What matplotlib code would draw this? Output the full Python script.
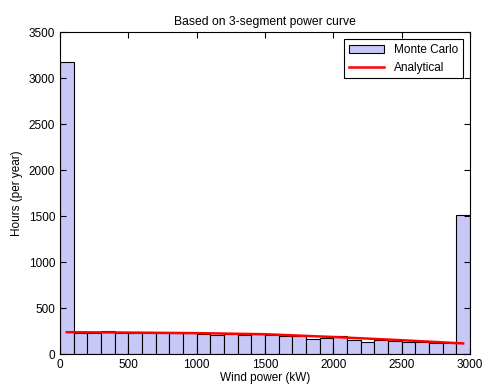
import matplotlib
matplotlib.use("Agg")
import matplotlib.pyplot as plt
import numpy as np

plt.rcParams['font.family'] = ['Liberation Sans', 'DejaVu Sans']

bin_edges = list(range(0, 3001, 100))
mc_hours = [3170, 226, 233, 255, 233, 226, 233, 229, 229, 229,
            222, 211, 215, 211, 222, 204, 193, 193, 164, 178,
            193, 157, 127, 153, 146, 135, 127, 124, 120, 1510]
an_x = [50, 500, 1000, 1500, 2000, 2500, 2950]
an_y = [237, 233, 227, 215, 185, 150, 115]

fig = plt.figure(figsize=(4.82, 3.88), dpi=100)
ax = fig.add_axes([0.1245, 0.0876, 0.8505, 0.8299])
lefts = bin_edges[:-1]
widths = np.diff(bin_edges)
bars = ax.bar(lefts, mc_hours, width=widths, align='edge', color='#c8c8f8',
              edgecolor='black', linewidth=0.8, label='Monte Carlo')
line, = ax.plot(an_x, an_y, color='red', linewidth=1.8, label='Analytical')

ax.set_xlim(0, 3000)
ax.set_ylim(0, 3500)
ax.set_xticks(range(0, 3001, 500))
ax.set_yticks(range(0, 3501, 500))
ax.tick_params(direction='in', top=True, right=True, labelsize=8.5, length=4)
ax.set_xlabel('Wind power (kW)', fontsize=8.5, labelpad=1)
ax.set_ylabel('Hours (per year)', fontsize=8.5)
ax.set_title('Based on 3-segment power curve', fontsize=8.7, pad=5)
leg = ax.legend([bars, line], ['Monte Carlo', 'Analytical'], loc='upper right',
                fontsize=8.5, fancybox=False, framealpha=1,
                edgecolor='black', borderaxespad=0.6, handlelength=3)
leg.get_frame().set_linewidth(0.8)
fig.savefig('out.png', dpi=100)
